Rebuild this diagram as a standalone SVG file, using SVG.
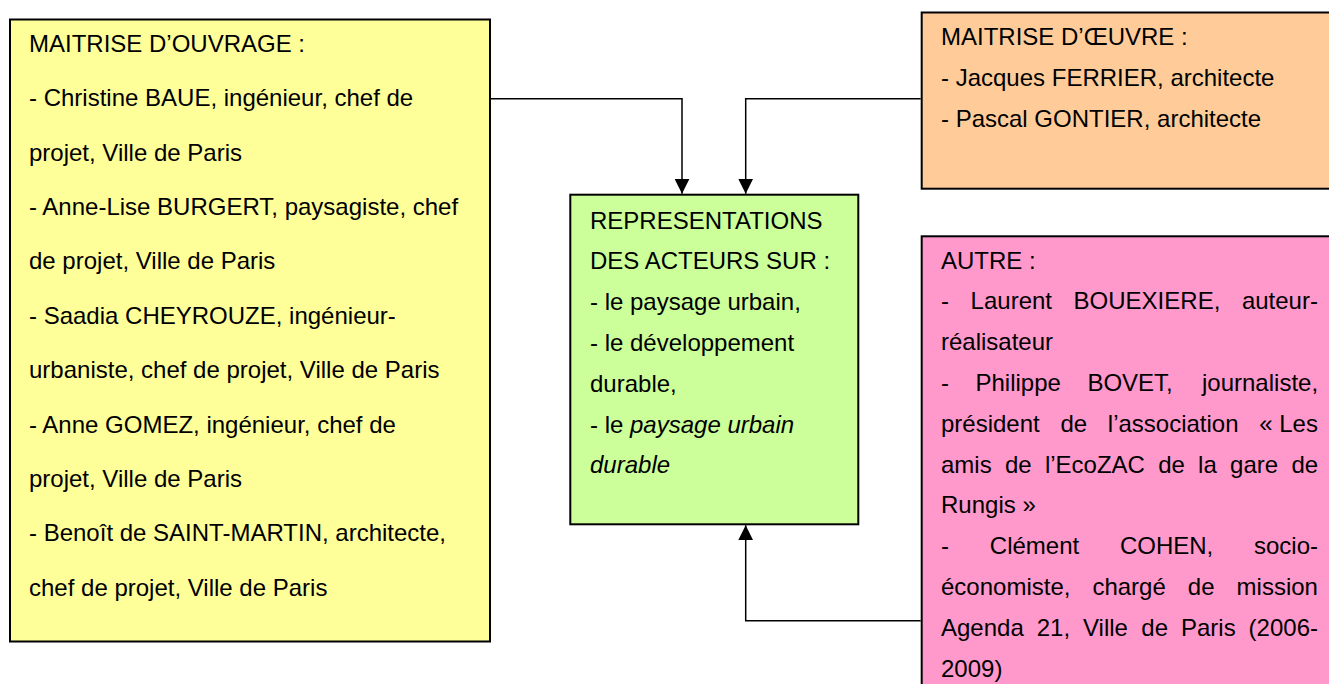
<svg xmlns="http://www.w3.org/2000/svg" width="1329" height="684" viewBox="0 0 1329 684">
<style>
.box{stroke:#000;stroke-width:2}
.t{font-family:"Liberation Sans",Arial,Helvetica,sans-serif;font-size:24px;fill:#000}
.i{font-style:italic}
.conn{fill:none;stroke:#000;stroke-width:1.5}
</style>
<defs>
<marker id="arr" viewBox="0 0 15 15" refX="15" refY="7.5" markerWidth="15" markerHeight="15" markerUnits="userSpaceOnUse" orient="auto">
<path d="M0,0 L15,7.5 L0,15 z" fill="#000"/>
</marker>
</defs>
<rect width="1329" height="684" fill="#fff"/>

<g id="maitrise-ouvrage">
<rect class="box" x="10" y="19.5" width="480" height="622" fill="#FFFF99"/>
<text class="t" x="29" y="51.7">MAITRISE D’OUVRAGE :</text>
<text class="t" x="29" y="106.1">- Christine BAUE, ingénieur, chef de</text>
<text class="t" x="29" y="160.5">projet, Ville de Paris</text>
<text class="t" x="29" y="214.9">- Anne-Lise BURGERT, paysagiste, chef</text>
<text class="t" x="29" y="269.3">de projet, Ville de Paris</text>
<text class="t" x="29" y="323.7">- Saadia CHEYROUZE, ingénieur-</text>
<text class="t" x="29" y="378.1">urbaniste, chef de projet, Ville de Paris</text>
<text class="t" x="29" y="432.5">- Anne GOMEZ, ingénieur, chef de</text>
<text class="t" x="29" y="486.9">projet, Ville de Paris</text>
<text class="t" x="29" y="541.3">- Benoît de SAINT-MARTIN, architecte,</text>
<text class="t" x="29" y="595.7">chef de projet, Ville de Paris</text>
</g>

<g id="representations">
<rect class="box" x="570.3" y="194.7" width="288" height="329.6" fill="#CCFF99"/>
<text class="t" x="590" y="228.5">REPRESENTATIONS</text>
<text class="t" x="590" y="269.3">DES ACTEURS SUR :</text>
<text class="t" x="590" y="310.1">- le paysage urbain,</text>
<text class="t" x="590" y="350.9">- le développement</text>
<text class="t" x="590" y="391.7">durable,</text>
<text class="t" x="590" y="432.5">- le <tspan class="i">paysage urbain</tspan></text>
<text class="t i" x="590" y="473.3">durable</text>
</g>

<g id="maitrise-oeuvre">
<rect class="box" x="921.7" y="12.5" width="420" height="176.2" fill="#FFCC99"/>
<text class="t" x="941" y="44.5">MAITRISE D’ŒUVRE :</text>
<text class="t" x="941" y="85.7">- Jacques FERRIER, architecte</text>
<text class="t" x="941" y="126.7">- Pascal GONTIER, architecte</text>
</g>

<g id="autre">
<rect class="box" x="921.7" y="236.3" width="420" height="460" fill="#FF99CC"/>
<text class="t" x="941" y="268.5">AUTRE :</text>
<text class="t" y="309.3"><tspan x="941">-</tspan><tspan x="970.6">Laurent</tspan><tspan x="1073.6">BOUEXIERE,</tspan><tspan x="1241.9">auteur-</tspan></text>
<text class="t" x="941" y="350.1">réalisateur</text>
<text class="t" y="390.9"><tspan x="941">-</tspan><tspan x="975.5">Philippe</tspan><tspan x="1087.4">BOVET,</tspan><tspan x="1202">journaliste,</tspan></text>
<text class="t" y="431.7"><tspan x="941">président</tspan><tspan x="1060.4">de</tspan><tspan x="1107.8">l’association</tspan><tspan x="1259.2">« Les</tspan></text>
<text class="t" y="472.5"><tspan x="941">amis</tspan><tspan x="1004.9">de</tspan><tspan x="1044.9">l’EcoZAC</tspan><tspan x="1158.2">de</tspan><tspan x="1198.1">la</tspan><tspan x="1230.1">gare</tspan><tspan x="1291.4">de</tspan></text>
<text class="t" x="941" y="513.3">Rungis »</text>
<text class="t" y="554.1"><tspan x="941">-</tspan><tspan x="989.8">Clément</tspan><tspan x="1119.9">COHEN,</tspan><tspan x="1254">socio-</tspan></text>
<text class="t" y="594.9"><tspan x="941">économiste,</tspan><tspan x="1092.4">chargé</tspan><tspan x="1187.8">de</tspan><tspan x="1236.6">mission</tspan></text>
<text class="t" y="635.7"><tspan x="941">Agenda</tspan><tspan x="1036.7">21,</tspan><tspan x="1083">Ville</tspan><tspan x="1141.3">de</tspan><tspan x="1181">Paris</tspan><tspan x="1248.6">(2006-</tspan></text>
<text class="t" x="941" y="676.5">2009)</text>
</g>

<g id="connectors">
<path class="conn" d="M491,98.7 H682 V193.7" marker-end="url(#arr)"/>
<path class="conn" d="M920.7,98.7 H745.7 V193.7" marker-end="url(#arr)"/>
<path class="conn" d="M920.7,620.7 H745.7 V525.3" marker-end="url(#arr)"/>
</g>
</svg>
